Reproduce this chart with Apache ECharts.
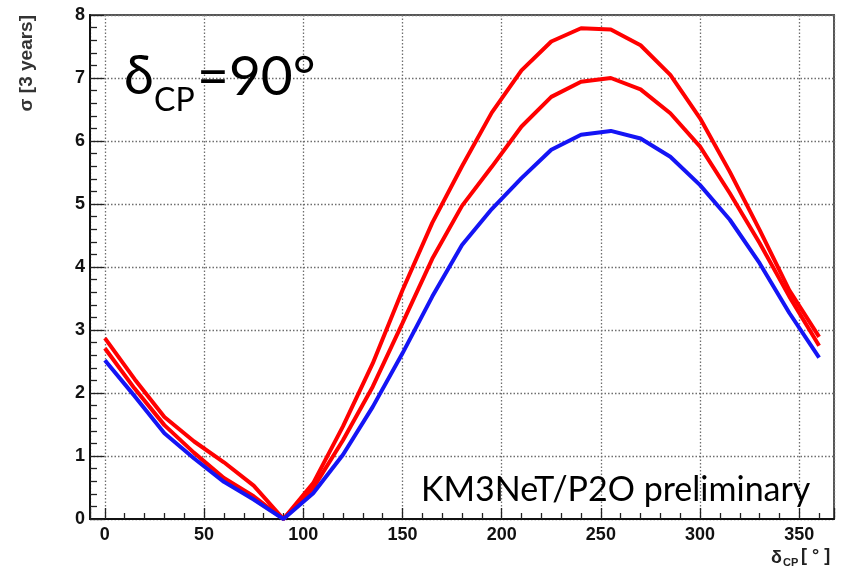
<!DOCTYPE html>
<html><head><meta charset="utf-8">
<script src="https://cdn.jsdelivr.net/npm/echarts@6/dist/echarts.min.js"></script>
<style>html,body{margin:0;padding:0;background:#fff}#c{width:841px;height:575px}</style>
</head><body><div id="c"></div>
<script>
// delta_CP values (degrees)
const deltaCP = [0, 15, 30, 45, 60, 75, 90, 105, 120, 135, 150, 165, 180, 195, 210, 225, 240, 255, 270, 285, 300, 315, 330, 345, 360];
// sensitivity curves, sigma [3 years]
const sigmaRedUpper = [2.87, 2.22, 1.62, 1.23, 0.90, 0.53, 0.00, 0.57, 1.47, 2.47, 3.63, 4.70, 5.60, 6.45, 7.12, 7.58, 7.79, 7.77, 7.52, 7.05, 6.36, 5.51, 4.59, 3.63, 2.89];
const sigmaRedLower = [2.71, 2.07, 1.49, 1.05, 0.65, 0.36, 0.00, 0.49, 1.25, 2.10, 3.11, 4.13, 4.97, 5.59, 6.23, 6.70, 6.94, 7.00, 6.82, 6.44, 5.91, 5.17, 4.38, 3.53, 2.75];
const sigmaBlue     = [2.52, 1.95, 1.36, 0.96, 0.59, 0.31, 0.00, 0.41, 1.02, 1.78, 2.63, 3.53, 4.35, 4.92, 5.41, 5.86, 6.10, 6.16, 6.04, 5.75, 5.30, 4.75, 4.06, 3.27, 2.56];
const yTicks = [0, 1, 2, 3, 4, 5, 6, 7, 8];

const chart = echarts.init(document.getElementById('c'), null, {renderer: 'canvas'});
const pairs = arr => deltaCP.map((x, i) => [x, arr[i]]);
const gridCol = '#6e6e6e';
const labFont = {fontFamily: 'Liberation Sans', fontWeight: 'bold', fontSize: 18, color: '#111'};
const bigFont = 'Lato';

const option = {
  animation: false,
  backgroundColor: '#fff',
  grid: {left: 90, right: 7, top: 15, bottom: 56, show: true, borderColor: '#555', borderWidth: 2,
         backgroundColor: 'transparent', containLabel: false, outerBoundsMode: 'none'},
  xAxis: {
    type: 'value', min: -7.5, max: 367.5, minInterval: 50, maxInterval: 50, splitNumber: 7,
    axisLine: {show: true, onZero: false, lineStyle: {color: '#111', width: 2}},
    axisTick: {show: true, inside: true, length: 11, lineStyle: {color: '#222', width: 1.3}},
    minorTick: {show: true, splitNumber: 5, length: 6, lineStyle: {color: '#222', width: 1.3}},
    axisLabel: Object.assign({showMinLabel: false, showMaxLabel: false, margin: 7}, labFont),
    splitLine: {show: true, lineStyle: {color: gridCol, width: 1.3, type: [1.5, 2]}}
  },
  yAxis: {
    type: 'value', min: yTicks[0], max: yTicks[yTicks.length - 1], interval: 1,
    axisLine: {show: true, onZero: false, lineStyle: {color: '#111', width: 2}},
    axisTick: {show: true, inside: true, length: 14, lineStyle: {color: '#222', width: 1.3}},
    minorTick: {show: true, splitNumber: 5, length: 7, lineStyle: {color: '#222', width: 1.3}},
    axisLabel: Object.assign({margin: 5, showMinLabel: true, showMaxLabel: true}, labFont),
    splitLine: {show: true, lineStyle: {color: gridCol, width: 1.3, type: [1.5, 2]}}
  },
  series: [
    {type: 'line', data: pairs(sigmaRedUpper), symbol: 'none', lineStyle: {color: '#ff0000', width: 4}, z: 3},
    {type: 'line', data: pairs(sigmaRedLower), symbol: 'none', lineStyle: {color: '#ff0000', width: 4}, z: 3},
    {type: 'line', data: pairs(sigmaBlue), symbol: 'none', lineStyle: {color: '#1414f5', width: 4}, z: 4}
  ],
  graphic: [
    {type: 'text', x: 124, y: 77, z: 10, style: {text: 'δ', font: '54px ' + bigFont, fill: '#000', textAlign: 'left', textVerticalAlign: 'middle'}},
    {type: 'text', x: 154, y: 101, z: 10, style: {text: 'CP', font: '32px ' + bigFont, fill: '#000', textAlign: 'left', textVerticalAlign: 'middle'}},
    {type: 'text', x: 197, y: 77, z: 10, style: {text: '=90°', font: '55px ' + bigFont, fill: '#000', textAlign: 'left', textVerticalAlign: 'middle'}},
    {type: 'text', x: 421, y: 490, z: 10, style: {text: 'KM3NeT/P2O preliminary', font: '34px ' + bigFont, fill: '#000', textAlign: 'left', textVerticalAlign: 'middle'}},
    {type: 'text', x: 27, y: 15, rotation: Math.PI / 2, z: 10, style: {text: 'σ [3 years]', font: 'bold 19px "Liberation Sans"', fill: '#333', textAlign: 'right', textVerticalAlign: 'middle'}},
    {type: 'text', x: 771, y: 558, z: 10, style: {text: 'δ', font: 'bold 18px "Liberation Sans"', fill: '#222', textAlign: 'left', textVerticalAlign: 'middle'}},
    {type: 'text', x: 783, y: 563, z: 10, style: {text: 'CP', font: 'bold 11px "Liberation Sans"', fill: '#222', textAlign: 'left', textVerticalAlign: 'middle'}},
    {type: 'text', x: 801, y: 556, z: 10, style: {text: '[ ° ]', font: 'bold 18px "Liberation Sans"', fill: '#222', textAlign: 'left', textVerticalAlign: 'middle'}}
  ]
};
chart.setOption(option);
</script>
</body></html>
